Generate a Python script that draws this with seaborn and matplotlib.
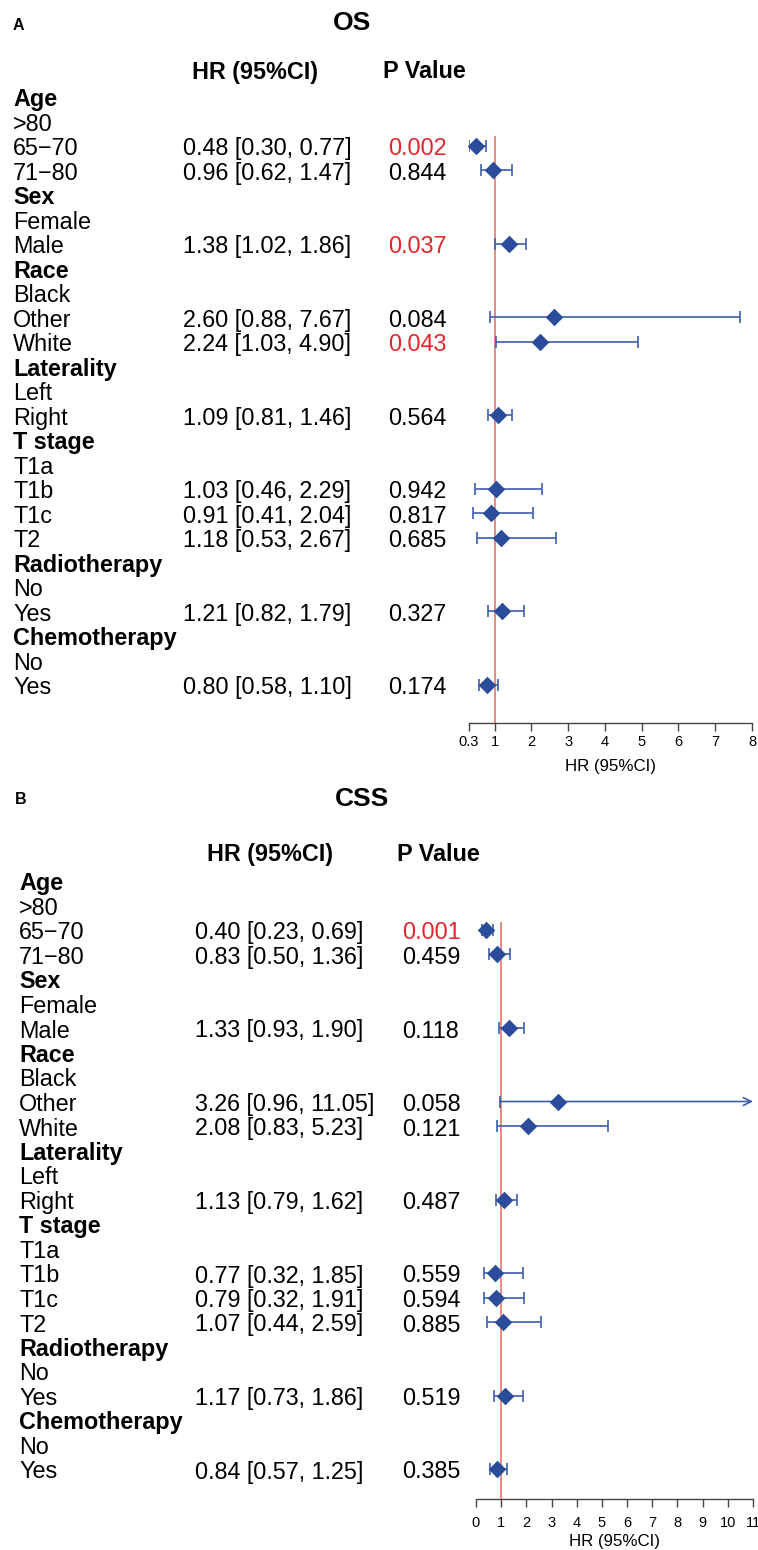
import numpy as np
import pandas as pd
import matplotlib
matplotlib.use("Agg")
import matplotlib.pyplot as plt
import seaborn as sns
from matplotlib.transforms import blended_transform_factory, ScaledTranslation

# ---------------- data ----------------
row_labels = ["Age", ">80", "65\u221270", "71\u221280",
              "Sex", "Female", "Male",
              "Race", "Black", "Other", "White",
              "Laterality", "Left", "Right",
              "T stage", "T1a", "T1b", "T1c", "T2",
              "Radiotherapy", "No", "Yes",
              "Chemotherapy", "No", "Yes"]
group_rows = [0, 4, 7, 11, 14, 19, 22]
# rows (index into row_labels) that carry an estimate
est_rows = [2, 3, 6, 9, 10, 13, 16, 17, 18, 21, 24]

os_hr = [0.48, 0.96, 1.38, 2.60, 2.24, 1.09, 1.03, 0.91, 1.18, 1.21, 0.80]
os_lo = [0.30, 0.62, 1.02, 0.88, 1.03, 0.81, 0.46, 0.41, 0.53, 0.82, 0.58]
os_hi = [0.77, 1.47, 1.86, 7.67, 4.90, 1.46, 2.29, 2.04, 2.67, 1.79, 1.10]
os_p = ["0.002", "0.844", "0.037", "0.084", "0.043", "0.564",
        "0.942", "0.817", "0.685", "0.327", "0.174"]

css_hr = [0.40, 0.83, 1.33, 3.26, 2.08, 1.13, 0.77, 0.79, 1.07, 1.17, 0.84]
css_lo = [0.23, 0.50, 0.93, 0.96, 0.83, 0.79, 0.32, 0.32, 0.44, 0.73, 0.57]
css_hi = [0.69, 1.36, 1.90, 11.05, 5.23, 1.62, 1.85, 1.91, 2.59, 1.86, 1.25]
css_p = ["0.001", "0.459", "0.118", "0.058", "0.121", "0.487",
         "0.559", "0.594", "0.885", "0.519", "0.385"]

os_ticks = [0.3, 1, 2, 3, 4, 5, 6, 7, 8]
os_ticklabels = ["0.3", "1", "2", "3", "4", "5", "6", "7", "8"]
css_ticks = list(range(0, 12))
css_ticklabels = [str(t) for t in css_ticks]

# ---------------- style ----------------
sns.set_style("white")
plt.rcParams["font.family"] = ["Liberation Sans", "DejaVu Sans"]
plt.rcParams["text.color"] = "black"
plt.rcParams["axes.labelcolor"] = "black"
plt.rcParams["xtick.color"] = "black"
plt.rcParams["xtick.labelcolor"] = "black"

W, H = 758, 1550
fig = plt.figure(figsize=(W / 100, H / 100), dpi=100)

DIAMOND = "#2B4B9B"
CI = "#3E5DAC"
REFLINE = "#E06A62"
RED = "#E3262B"
FS = 16.8
# shift text a little down so glyph centres sit on the row centre
DOWN = ScaledTranslation(0, -3 / 100, fig.dpi_scale_trans)


def fx(px):
    return px / W


def fy(py):
    return 1 - py / H


def panel(spec):
    left, right, top_px, bot_px = spec["ax_px"]
    row0, rowh = spec["row0"], spec["rowh"]
    ax = fig.add_axes([fx(left), fy(bot_px), fx(right - left), (bot_px - top_px) / H])
    r_top = (top_px - row0) / rowh
    r_bot = (bot_px - row0) / rowh

    df = pd.DataFrame({"row": est_rows, "hr": spec["hr"], "lo": spec["lo"], "hi": spec["hi"]})
    xmax = spec["xlim"][1]
    ax.axvline(1, color=REFLINE, lw=1.1, zorder=1)
    for _, r in df.iterrows():
        if r.hi > xmax:
            ax.plot([r.lo], [r.row], marker="|", ms=8, mew=1.2, color=CI, zorder=2)
            ax.annotate("", xy=(xmax, r.row), xytext=(r.lo, r.row),
                        arrowprops=dict(arrowstyle="->", color=CI, lw=1.2,
                                        shrinkA=0, shrinkB=0, mutation_scale=14),
                        zorder=2, annotation_clip=False)
        else:
            ax.errorbar(r.hr, r.row, xerr=[[r.hr - r.lo], [r.hi - r.hr]],
                        fmt="none", ecolor=CI, elinewidth=1.2, capsize=4.5,
                        capthick=1.2, zorder=2)
    sns.scatterplot(data=df, x="hr", y="row", marker="D", s=80, color=DIAMOND,
                    edgecolor=DIAMOND, linewidth=0, ax=ax, zorder=3, clip_on=False)

    ax.set_xlim(*spec["xlim"])
    ax.set_ylim(r_bot, r_top)
    ax.set_xticks(spec["ticks"])
    ax.set_xticklabels(spec["ticklabels"], fontsize=10.5)
    ax.set_yticks([])
    ax.set_ylabel("")
    ax.set_xlabel("HR (95%CI)", fontsize=12.2, labelpad=spec["labelpad"])
    for s in ["top", "right", "left"]:
        ax.spines[s].set_visible(False)
    ax.spines["bottom"].set_color("#444444")
    ax.spines["bottom"].set_linewidth(1.0)
    ax.tick_params(axis="x", direction="out", length=6, width=1.0, color="#444444",
                   pad=spec["tickpad"], bottom=True)
    ax.patch.set_alpha(0)

    tr = blended_transform_factory(fig.transFigure, ax.transData) + DOWN
    for i, lab in enumerate(row_labels):
        ax.text(fx(spec["x_lab"]), i, lab, transform=tr, va="center", ha="left",
                fontsize=FS, fontweight="bold" if i in group_rows else "normal",
                clip_on=False)
    for k, row in enumerate(est_rows):
        txt = f"{spec['hr'][k]:.2f} [{spec['lo'][k]:.2f}, {spec['hi'][k]:.2f}]"
        ax.text(fx(spec["x_hr"]), row, txt, transform=tr, va="center", ha="left",
                fontsize=FS, clip_on=False)
        p = spec["p"][k]
        ax.text(fx(spec["x_p"]), row, p, transform=tr, va="center", ha="left",
                fontsize=FS, color=RED if float(p) < 0.05 else "black", clip_on=False)

    fig.text(fx(spec["x_hrh"]), fy(spec["head_y"]), "HR (95%CI)", fontsize=FS,
             fontweight="bold", va="center", ha="left")
    fig.text(fx(spec["x_ph"]), fy(spec["head_y"]), "P Value", fontsize=FS,
             fontweight="bold", va="center", ha="left")
    fig.text(fx(spec["title_x"]), fy(spec["title_y"]), spec["title"], fontsize=19,
             fontweight="bold", va="center", ha="center")
    fig.text(fx(spec["tag_x"]), fy(spec["tag_y"]), spec["tag"], fontsize=11.5,
             fontweight="bold", va="center", ha="left")
    return ax


panel(dict(ax_px=(469, 752, 136, 723), row0=97, rowh=24.5,
           hr=os_hr, lo=os_lo, hi=os_hi, p=os_p, xlim=(0.3, 8),
           ticks=os_ticks, ticklabels=os_ticklabels, tickpad=3, labelpad=7,
           x_lab=13, x_hr=183, x_p=388, x_hrh=192, x_ph=383, head_y=72,
           title="OS", title_x=352, title_y=23, tag="A", tag_x=13, tag_y=25))

panel(dict(ax_px=(476, 753, 922, 1499), row0=881, rowh=24.5,
           hr=css_hr, lo=css_lo, hi=css_hi, p=css_p, xlim=(0, 11),
           ticks=css_ticks, ticklabels=css_ticklabels, tickpad=6, labelpad=3,
           x_lab=19, x_hr=195, x_p=402, x_hrh=207, x_ph=397, head_y=854,
           title="CSS", title_x=362, title_y=799, tag="B", tag_x=15, tag_y=800))

fig.savefig("out.png", dpi=100)
